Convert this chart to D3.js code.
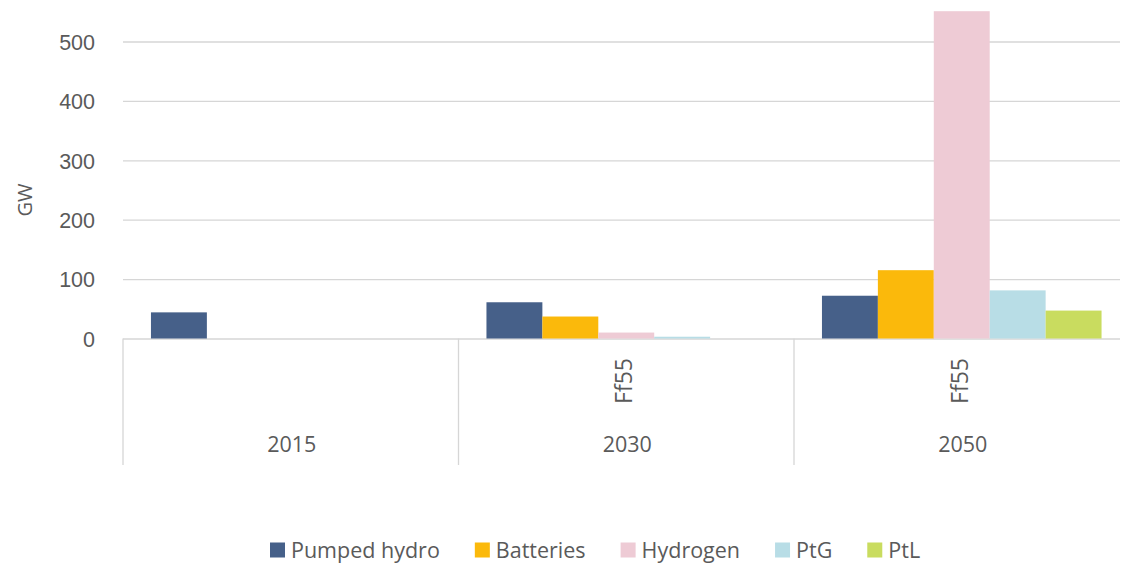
<!DOCTYPE html>
<html>
<head>
<meta charset="utf-8">
<script src="https://cdn.jsdelivr.net/npm/d3@7"></script>
<style>
  body { margin: 0; background: #fff; }
  svg { font-family: 'Open Sans', sans-serif; }
</style>
</head>
<body>
<div id="viz"></div>
<script>
// data
var years = ['2015', '2030', '2050'];
var scenarios = ['', 'Ff55', 'Ff55'];
var seriesNames = ['Pumped hydro', 'Batteries', 'Hydrogen', 'PtG', 'PtL'];
var pumpedHydro = [44, 61, 72];
var batteries = [0, 37, 115];
var hydrogen = [0, 10, 551];
var ptg = [0, 3, 81];
var ptl = [0, 0, 47];
var yTicks = [0, 100, 200, 300, 400, 500];

var colors = ['#466089', '#fbb90b', '#eecbd5', '#b8dde6', '#c9dc5f'];
var seriesValues = [pumpedHydro, batteries, hydrogen, ptg, ptl];

var W = 1122, H = 570,
  left = 123, right = 1120,
  y0 = 338.5, yTop = 41.5,
  catBottom = 465,
  fontSize = '21.5px',
  textColor = '#5a5a5a',
  gridColor = '#d6d6d6';

var svg = d3.select('#viz').append('svg')
  .attr('width', W)
  .attr('height', H);

var yScale = d3.scaleLinear()
  .domain([0, 500])
  .range([y0, yTop]);

var xScale = d3.scaleBand()
  .domain(years)
  .range([left, left + 3 * 335.5]);

var xInner = d3.scaleBand()
  .domain(seriesNames)
  .range([0, xScale.bandwidth()])
  .paddingInner(0)
  .paddingOuter(0.5);

// gridlines + y labels
var yAxis = d3.axisLeft(yScale)
  .tickValues(yTicks)
  .tickSize(-(right - left))
  .tickPadding(28);

var yGuide = svg.append('g')
  .attr('transform', 'translate(' + left + ',0)')
  .call(yAxis);
yGuide.select('.domain').remove();
yGuide.selectAll('line')
  .attr('stroke', gridColor)
  .attr('stroke-width', 1.3);
yGuide.selectAll('text')
  .attr('fill', textColor)
  .style('font-size', fontSize)
  .attr('dy', '0.36em');

svg.append('text')
  .attr('transform', 'translate(32,200) rotate(-90)')
  .attr('text-anchor', 'middle')
  .attr('fill', textColor)
  .style('font-size', '20px')
  .text('GW');

// bars
var rows = years.map(function(y, i) {
  return seriesNames.map(function(s, j) {
    return { year: y, series: s, value: seriesValues[j][i], color: colors[j] };
  });
});

svg.append('g').selectAll('g')
  .data(rows)
  .enter().append('g')
  .attr('transform', function(d, i) {
    return 'translate(' + xScale(years[i]) + ',0)';
  })
  .selectAll('rect')
  .data(function(d) { return d.filter(function(v) { return v.value > 0; }); })
  .enter().append('rect')
  .attr('x', function(d) { return xInner(d.series); })
  .attr('width', xInner.bandwidth())
  .attr('y', function(d) { return yScale(d.value); })
  .attr('height', function(d) { return y0 - yScale(d.value); })
  .attr('fill', function(d) { return d.color; });

// category axis box
var catAxis = svg.append('g');
catAxis.selectAll('line.div')
  .data(years)
  .enter().append('line')
  .attr('class', 'div')
  .attr('x1', function(d) { return xScale(d); })
  .attr('x2', function(d) { return xScale(d); })
  .attr('y1', y0)
  .attr('y2', catBottom)
  .attr('stroke', gridColor)
  .attr('stroke-width', 1.3);

catAxis.selectAll('text.year')
  .data(years)
  .enter().append('text')
  .attr('class', 'year')
  .attr('x', function(d) { return xScale(d) + xScale.bandwidth() / 2 + 1; })
  .attr('y', 452)
  .attr('text-anchor', 'middle')
  .attr('fill', textColor)
  .style('font-size', fontSize)
  .text(function(d) { return d; });

catAxis.selectAll('text.scen')
  .data(years)
  .enter().append('text')
  .attr('class', 'scen')
  .attr('transform', function(d) {
    return 'translate(' + (xScale(d) + xScale.bandwidth() / 2 + 6) + ',381) rotate(-90)';
  })
  .attr('text-anchor', 'middle')
  .attr('fill', textColor)
  .style('font-size', '23px')
  .text(function(d, i) { return scenarios[i]; });

// legend
var legend = svg.append('g').attr('transform', 'translate(0,550)');
var lx = 270;
seriesNames.forEach(function(name, i) {
  var item = legend.append('g').attr('transform', 'translate(' + lx + ',0)');
  item.append('rect')
    .attr('x', 0)
    .attr('y', -7.5)
    .attr('width', 15)
    .attr('height', 15)
    .attr('fill', colors[i]);
  var t = item.append('text')
    .attr('x', 21)
    .attr('dy', '0.36em')
    .attr('fill', textColor)
    .style('font-size', fontSize)
    .text(name);
  lx += 21 + t.node().getComputedTextLength() + 35;
});
</script>
</body>
</html>
